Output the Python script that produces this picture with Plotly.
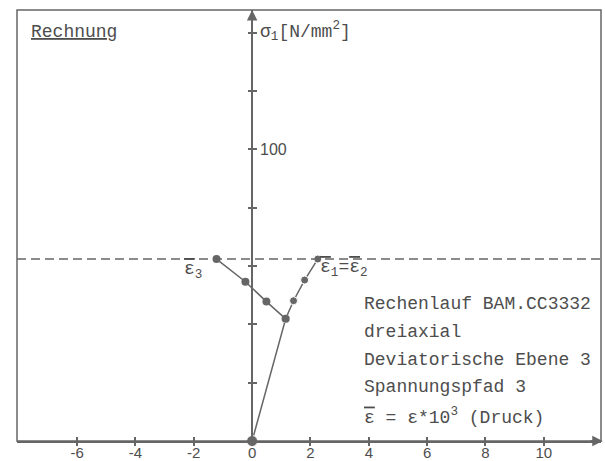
"""
Rechnung: Spannungspfad 3 in der deviatorischen Ebene 3 (sigma_1 ueber eps*10^3).
"""
import plotly.graph_objects as go

# Daten
PATH_EPS12_X = [0.0, 1.15, 1.42, 1.80, 2.25]
PATH_EPS12_Y = [0.0, 41.9, 48.1, 55.2, 62.4]
PATH_EPS3_X = [1.15, 0.49, -0.23, -1.22]
PATH_EPS3_Y = [41.9, 47.8, 54.6, 62.4]
DEVIATOR_LEVEL = 62.4

X_TICKS = [-6, -4, -2, 0, 2, 4, 6, 8, 10]
X_LABELS = ["-6", "-4", "-2", "0", "2", "4", "6", "8", "10"]
Y_TICKS = [20, 40, 60, 80, 100, 120, 140]
Y_LABELS = ["", "", "", "", "100", "", ""]

EPS_BAR = '<span style="text-decoration:overline">ε</span>'
INFO_LINES = [
    "Rechenlauf BAM.CC3332",
    "dreiaxial",
    "Deviatorische Ebene 3",
    "Spannungspfad 3",
    EPS_BAR + " = ε*10<sup>3</sup> (Druck)",
]

X_RANGE = [-8.06, 11.96]
Y_RANGE = [0, 147.8]

LINE = "#666666"
TEXT = "#4d4d4d"
MONO = "Liberation Mono, Courier New, monospace"
SANS = "Liberation Sans, Arial, sans-serif"

yaxis_pos = (0 - X_RANGE[0]) / (X_RANGE[1] - X_RANGE[0])

fig = go.Figure()

# Referenzlinie (gestrichelt)
fig.add_hline(y=DEVIATOR_LEVEL, line=dict(color=LINE, width=1.5, dash="9px,5px"))

fig.add_trace(go.Scatter(
    x=PATH_EPS12_X, y=PATH_EPS12_Y,
    mode="lines+markers",
    line=dict(color=LINE, width=1.5),
    marker=dict(color=LINE, size=[11, 8, 8, 8, 8], opacity=1),
    cliponaxis=False,
    showlegend=False,
))
fig.add_trace(go.Scatter(
    x=PATH_EPS3_X, y=PATH_EPS3_Y,
    mode="lines+markers",
    line=dict(color=LINE, width=1.5),
    marker=dict(color=LINE, size=8, opacity=1),
    showlegend=False,
))
# leere Spur, damit die Zusatzachsen (Ticks auf der Gegenseite) gezeichnet werden
fig.add_trace(go.Scatter(x=[None], y=[None], xaxis="x2", yaxis="y2", showlegend=False))

axis_common = dict(showgrid=False, zeroline=False, tickcolor=LINE, tickwidth=1.5,
                   ticklen=4, automargin=False)

fig.update_layout(
    width=605, height=461,
    margin=dict(l=17, r=4, t=10, b=20),
    paper_bgcolor="white", plot_bgcolor="white",
    # Achsen mit Beschriftung: Ticks nach innen, Gegenachsen: Ticks nach aussen
    xaxis=dict(
        range=X_RANGE, tickvals=X_TICKS, ticktext=X_LABELS, ticks="inside",
        showline=True, linecolor=LINE, linewidth=1.5, ticklabelstandoff=-3,
        tickfont=dict(family=SANS, size=15, color=TEXT), **axis_common,
    ),
    xaxis2=dict(
        range=X_RANGE, tickvals=X_TICKS, ticks="outside", overlaying="x",
        anchor="y", side="bottom", showticklabels=False, showline=False, **axis_common,
    ),
    yaxis=dict(
        range=Y_RANGE, tickvals=Y_TICKS, ticktext=Y_LABELS, ticks="outside",
        anchor="free", position=yaxis_pos, side="right",
        showline=True, linecolor=LINE, linewidth=1.5,
        tickfont=dict(family=SANS, size=16, color=TEXT), **axis_common,
    ),
    yaxis2=dict(
        range=Y_RANGE, tickvals=Y_TICKS, ticks="outside", overlaying="y",
        anchor="free", position=yaxis_pos, side="left",
        showticklabels=False, showline=False, **axis_common,
    ),
)

# Rahmen
fig.add_shape(type="rect", xref="paper", yref="paper", x0=0, y0=0, x1=1, y1=1,
              line=dict(color=LINE, width=1.5))

# Pfeilspitzen der Achsen
fig.add_annotation(xref="paper", yref="paper", x=1.003, y=0, ax=-14, ay=0, text="",
                   showarrow=True, arrowhead=2, arrowsize=1.4, arrowwidth=1.5, arrowcolor=LINE)
fig.add_annotation(xref="paper", yref="paper", x=yaxis_pos, y=1.0, ax=0, ay=14, text="",
                   showarrow=True, arrowhead=2, arrowsize=1.4, arrowwidth=1.5, arrowcolor=LINE)

mono = dict(family=MONO, size=18, color=TEXT)
txt = dict(showarrow=False, font=mono, xanchor="left", yanchor="middle")

fig.add_annotation(xref="paper", yref="paper", x=0.021, y=0.95,
                   text="<u>Rechnung</u>", **txt)
fig.add_annotation(xref="paper", yref="paper", x=yaxis_pos + 0.01, y=0.951,
                   text="σ<sub>1</sub>[N/mm<sup>2</sup>]", **txt)

fig.add_annotation(x=-2.41, y=58.3, text=EPS_BAR + "<sub>3</sub>", **txt)
fig.add_annotation(x=2.27, y=59.3,
                   text=EPS_BAR + "<sub>1</sub>=" + EPS_BAR + "<sub>2</sub>", **txt)

info_y = [0.318, 0.253, 0.188, 0.125, 0.058]
for line_text, yy in zip(INFO_LINES, info_y):
    fig.add_annotation(xref="paper", yref="paper", x=0.5908, y=yy, text=line_text, **txt)

fig.write_html("out.html", config={"displayModeBar": False},
               post_script="document.body.style.margin='0';")
